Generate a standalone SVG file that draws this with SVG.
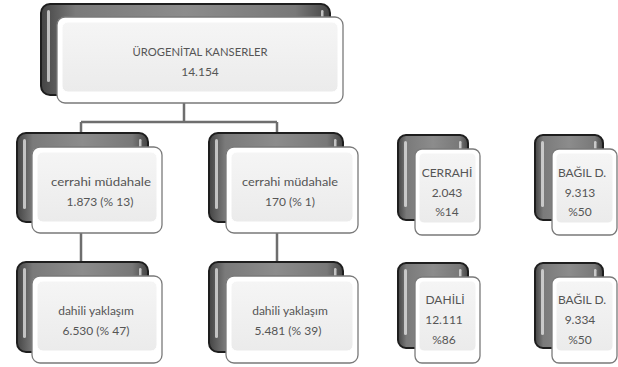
<svg xmlns="http://www.w3.org/2000/svg" width="618" height="367" viewBox="0 0 618 367">
  <defs>
    <linearGradient id="backFill" x1="0" y1="0" x2="1" y2="0">
      <stop offset="0" stop-color="#444444"/>
      <stop offset="0.12" stop-color="#7a7a7a"/>
      <stop offset="0.5" stop-color="#8c8c8c"/>
      <stop offset="0.88" stop-color="#787878"/>
      <stop offset="1" stop-color="#444444"/>
    </linearGradient>
    <linearGradient id="frontFill" x1="0" y1="0" x2="0" y2="1">
      <stop offset="0" stop-color="#f5f5f5"/>
      <stop offset="1" stop-color="#ebebeb"/>
    </linearGradient>
  </defs>
  <style>
    .back { fill: url(#backFill); stroke: #1e1e1e; stroke-width: 2; }
    .shine { fill: #e6e6e6; opacity: 0.75; }
    .front { fill: #ffffff; stroke: #7a7a7a; stroke-width: 1.3; }
    .inner { fill: url(#frontFill); stroke: #ffffff; stroke-width: 1; }
    .link { stroke: #6e6e6e; stroke-width: 2.5; fill: none; }
    text { font-family: "Lato", "Liberation Sans", sans-serif; font-size: 12px; fill: #555555; text-anchor: middle; }
  </style>

  <g id="connectors">
    <path class="link" d="M184 103 V122 M81 122 H277 M81 122 V133 M277 122 V133"/>
    <path class="link" d="M81 233 V262 M277 233 V262"/>
  </g>

  <g id="node-urogenital">
    <rect class="back" x="41" y="4" width="289" height="91" rx="9"/>
    <rect class="shine" x="47" y="10" width="3" height="72" rx="1.5"/>
    <rect class="shine" x="321" y="10" width="2.5" height="10" rx="1.2"/>
    <rect class="front" x="57" y="17" width="286" height="86" rx="8"/>
    <rect class="inner" x="62" y="22" width="276" height="70" rx="6"/>
    <text x="200" y="56" textLength="135" lengthAdjust="spacingAndGlyphs">ÜROGENİTAL KANSERLER</text>
    <text x="200" y="76">14.154</text>
  </g>

  <g id="node-cerrahi-1">
    <rect class="back" x="17" y="133" width="131" height="89" rx="9"/>
    <rect class="shine" x="23" y="139" width="3" height="70" rx="1.5"/>
    <rect class="shine" x="139" y="139" width="2.5" height="10" rx="1.2"/>
    <rect class="front" x="32" y="147" width="130" height="86" rx="8"/>
    <rect class="inner" x="37" y="152" width="120" height="70" rx="6"/>
    <text x="101" y="186" textLength="100" lengthAdjust="spacingAndGlyphs">cerrahi müdahale</text>
    <text x="100" y="206">1.873 (% 13)</text>
  </g>

  <g id="node-cerrahi-2">
    <rect class="back" x="209" y="133" width="134" height="89" rx="9"/>
    <rect class="shine" x="215" y="139" width="3" height="70" rx="1.5"/>
    <rect class="shine" x="334" y="139" width="2.5" height="10" rx="1.2"/>
    <rect class="front" x="226" y="147" width="132" height="86" rx="8"/>
    <rect class="inner" x="231" y="152" width="122" height="70" rx="6"/>
    <text x="290" y="186" textLength="96" lengthAdjust="spacingAndGlyphs">cerrahi müdahale</text>
    <text x="290" y="206">170 (% 1)</text>
  </g>

  <g id="node-dahili-1">
    <rect class="back" x="17" y="262" width="131" height="90" rx="9"/>
    <rect class="shine" x="23" y="268" width="3" height="70" rx="1.5"/>
    <rect class="shine" x="139" y="268" width="2.5" height="10" rx="1.2"/>
    <rect class="front" x="32" y="276" width="130" height="87" rx="8"/>
    <rect class="inner" x="37" y="281" width="120" height="70" rx="6"/>
    <text x="96" y="315">dahili yaklaşım</text>
    <text x="96" y="335">6.530 (% 47)</text>
  </g>

  <g id="node-dahili-2">
    <rect class="back" x="209" y="262" width="134" height="90" rx="9"/>
    <rect class="shine" x="215" y="268" width="3" height="70" rx="1.5"/>
    <rect class="shine" x="334" y="268" width="2.5" height="10" rx="1.2"/>
    <rect class="front" x="226" y="276" width="132" height="87" rx="8"/>
    <rect class="inner" x="231" y="281" width="122" height="70" rx="6"/>
    <text x="290" y="315">dahili yaklaşım</text>
    <text x="288" y="335">5.481 (% 39)</text>
  </g>

  <g id="node-cerrahi-total">
    <rect class="back" x="398" y="135" width="70" height="85" rx="8"/>
    <rect class="shine" x="404" y="141" width="3" height="66" rx="1.5"/>
    <rect class="shine" x="459" y="141" width="2.5" height="10" rx="1.2"/>
    <rect class="front" x="415" y="149" width="65" height="86" rx="7"/>
    <rect class="inner" x="419" y="153" width="57" height="70" rx="5"/>
    <text x="447" y="177">CERRAHİ</text>
    <text x="447" y="197">2.043</text>
    <text x="447" y="216">%14</text>
  </g>

  <g id="node-bagil-1">
    <rect class="back" x="535" y="135" width="68" height="85" rx="8"/>
    <rect class="shine" x="541" y="141" width="3" height="66" rx="1.5"/>
    <rect class="shine" x="594" y="141" width="2.5" height="10" rx="1.2"/>
    <rect class="front" x="552" y="149" width="65" height="86" rx="7"/>
    <rect class="inner" x="556" y="153" width="57" height="70" rx="5"/>
    <text x="582" y="177">BAĞIL D.</text>
    <text x="580" y="197">9.313</text>
    <text x="580" y="216">%50</text>
  </g>

  <g id="node-dahili-total">
    <rect class="back" x="398" y="263" width="70" height="85" rx="8"/>
    <rect class="shine" x="404" y="269" width="3" height="66" rx="1.5"/>
    <rect class="shine" x="459" y="269" width="2.5" height="10" rx="1.2"/>
    <rect class="front" x="415" y="277" width="65" height="86" rx="7"/>
    <rect class="inner" x="419" y="281" width="57" height="70" rx="5"/>
    <text x="445" y="304">DAHİLİ</text>
    <text x="444" y="324">12.111</text>
    <text x="444" y="344">%86</text>
  </g>

  <g id="node-bagil-2">
    <rect class="back" x="535" y="263" width="68" height="85" rx="8"/>
    <rect class="shine" x="541" y="269" width="3" height="66" rx="1.5"/>
    <rect class="shine" x="594" y="269" width="2.5" height="10" rx="1.2"/>
    <rect class="front" x="552" y="277" width="65" height="86" rx="7"/>
    <rect class="inner" x="556" y="281" width="57" height="70" rx="5"/>
    <text x="582" y="304">BAĞIL D.</text>
    <text x="580" y="324">9.334</text>
    <text x="580" y="344">%50</text>
  </g>
</svg>
